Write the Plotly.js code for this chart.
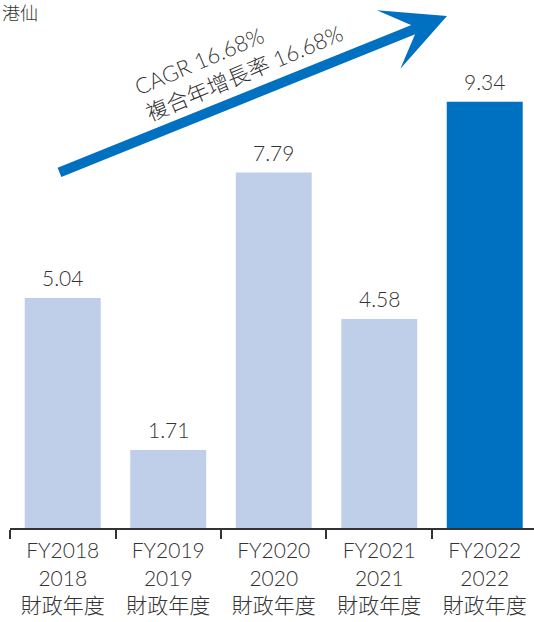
<!DOCTYPE html>
<html>
<head>
<meta charset="utf-8">
<script src="https://cdn.plot.ly/plotly-3.0.1.min.js"></script>
<style>html,body{margin:0;padding:0;background:#fff;}</style>
</head>
<body>
<div id="chart" style="width:534px;height:622px;"></div>
<script>
var years = ['2018', '2019', '2020', '2021', '2022'];
var values = [5.04, 1.71, 7.79, 4.58, 9.34];
var valueLabels = ['5.04', '1.71', '7.79', '4.58', '9.34'];
var barColors = ['#BFCFE9', '#BFCFE9', '#BFCFE9', '#BFCFE9', '#0070C0'];
var unitLabel = '港仙';
var cagrText = 'CAGR 16.68%<br>複合年增長率 16.68%';

var categories = years.map(function (y) { return 'FY' + y + '<br>' + y + '<br>財政年度'; });
var FONT = 'Lato, "Noto Sans CJK TC", "Noto Sans", sans-serif';

var trace = {
  type: 'bar',
  x: categories,
  y: values,
  marker: {color: barColors, line: {width: 0}},
  hoverinfo: 'none'
};

var valueAnnotations = categories.map(function (c, i) {
  return {
    xref: 'x', yref: 'y',
    x: c, y: values[i],
    xanchor: 'center', yanchor: 'bottom',
    yshift: 6,
    text: valueLabels[i],
    showarrow: false,
    font: {family: FONT, size: 21, color: '#333333', weight: 300}
  };
});

var layout = {
  width: 534,
  height: 622,
  margin: {l: 10, r: 0, t: 0, b: 94},
  paper_bgcolor: '#ffffff',
  plot_bgcolor: '#ffffff',
  showlegend: false,
  bargap: 0.28,
  font: {family: FONT, color: '#333333'},
  xaxis: {
    type: 'category',
    range: [-0.5, 4.467],
    showline: true,
    linecolor: '#333333',
    linewidth: 2,
    ticks: 'outside',
    tickson: 'boundaries',
    ticklen: 9,
    tickwidth: 2,
    tickcolor: '#333333',
    ticklabelstandoff: 3,
    tickfont: {family: FONT, size: 21, color: '#333333', weight: 300},
    showgrid: false,
    zeroline: false,
    fixedrange: true
  },
  yaxis: {
    range: [0, 11.57],
    visible: false,
    showgrid: false,
    zeroline: false,
    fixedrange: true
  },
  annotations: valueAnnotations.concat([
    {
      xref: 'paper', yref: 'paper',
      x: -0.019, y: 1.0,
      xanchor: 'left', yanchor: 'top',
      text: unitLabel,
      showarrow: false,
      font: {family: FONT, size: 18, color: '#333333', weight: 300}
    },
    {
      xref: 'paper', yref: 'paper',
      x: (447 - 10) / 524, y: 1 - 16 / 528,
      ax: 58 - 447, ay: 173 - 16,
      axref: 'pixel', ayref: 'pixel',
      text: '',
      showarrow: true,
      arrowhead: 3,
      arrowsize: 1.05,
      arrowwidth: 10,
      arrowcolor: '#0070C0',
      standoff: 0
    },
    {
      xref: 'paper', yref: 'paper',
      x: (238 - 10) / 524, y: 1 - 60 / 528,
      xanchor: 'center', yanchor: 'middle',
      text: cagrText,
      align: 'left',
      textangle: -23,
      showarrow: false,
      font: {family: FONT, size: 22, color: '#333333', weight: 300}
    }
  ])
};

Plotly.newPlot('chart', [trace], layout, {displayModeBar: false, staticPlot: true});
</script>
</body>
</html>
